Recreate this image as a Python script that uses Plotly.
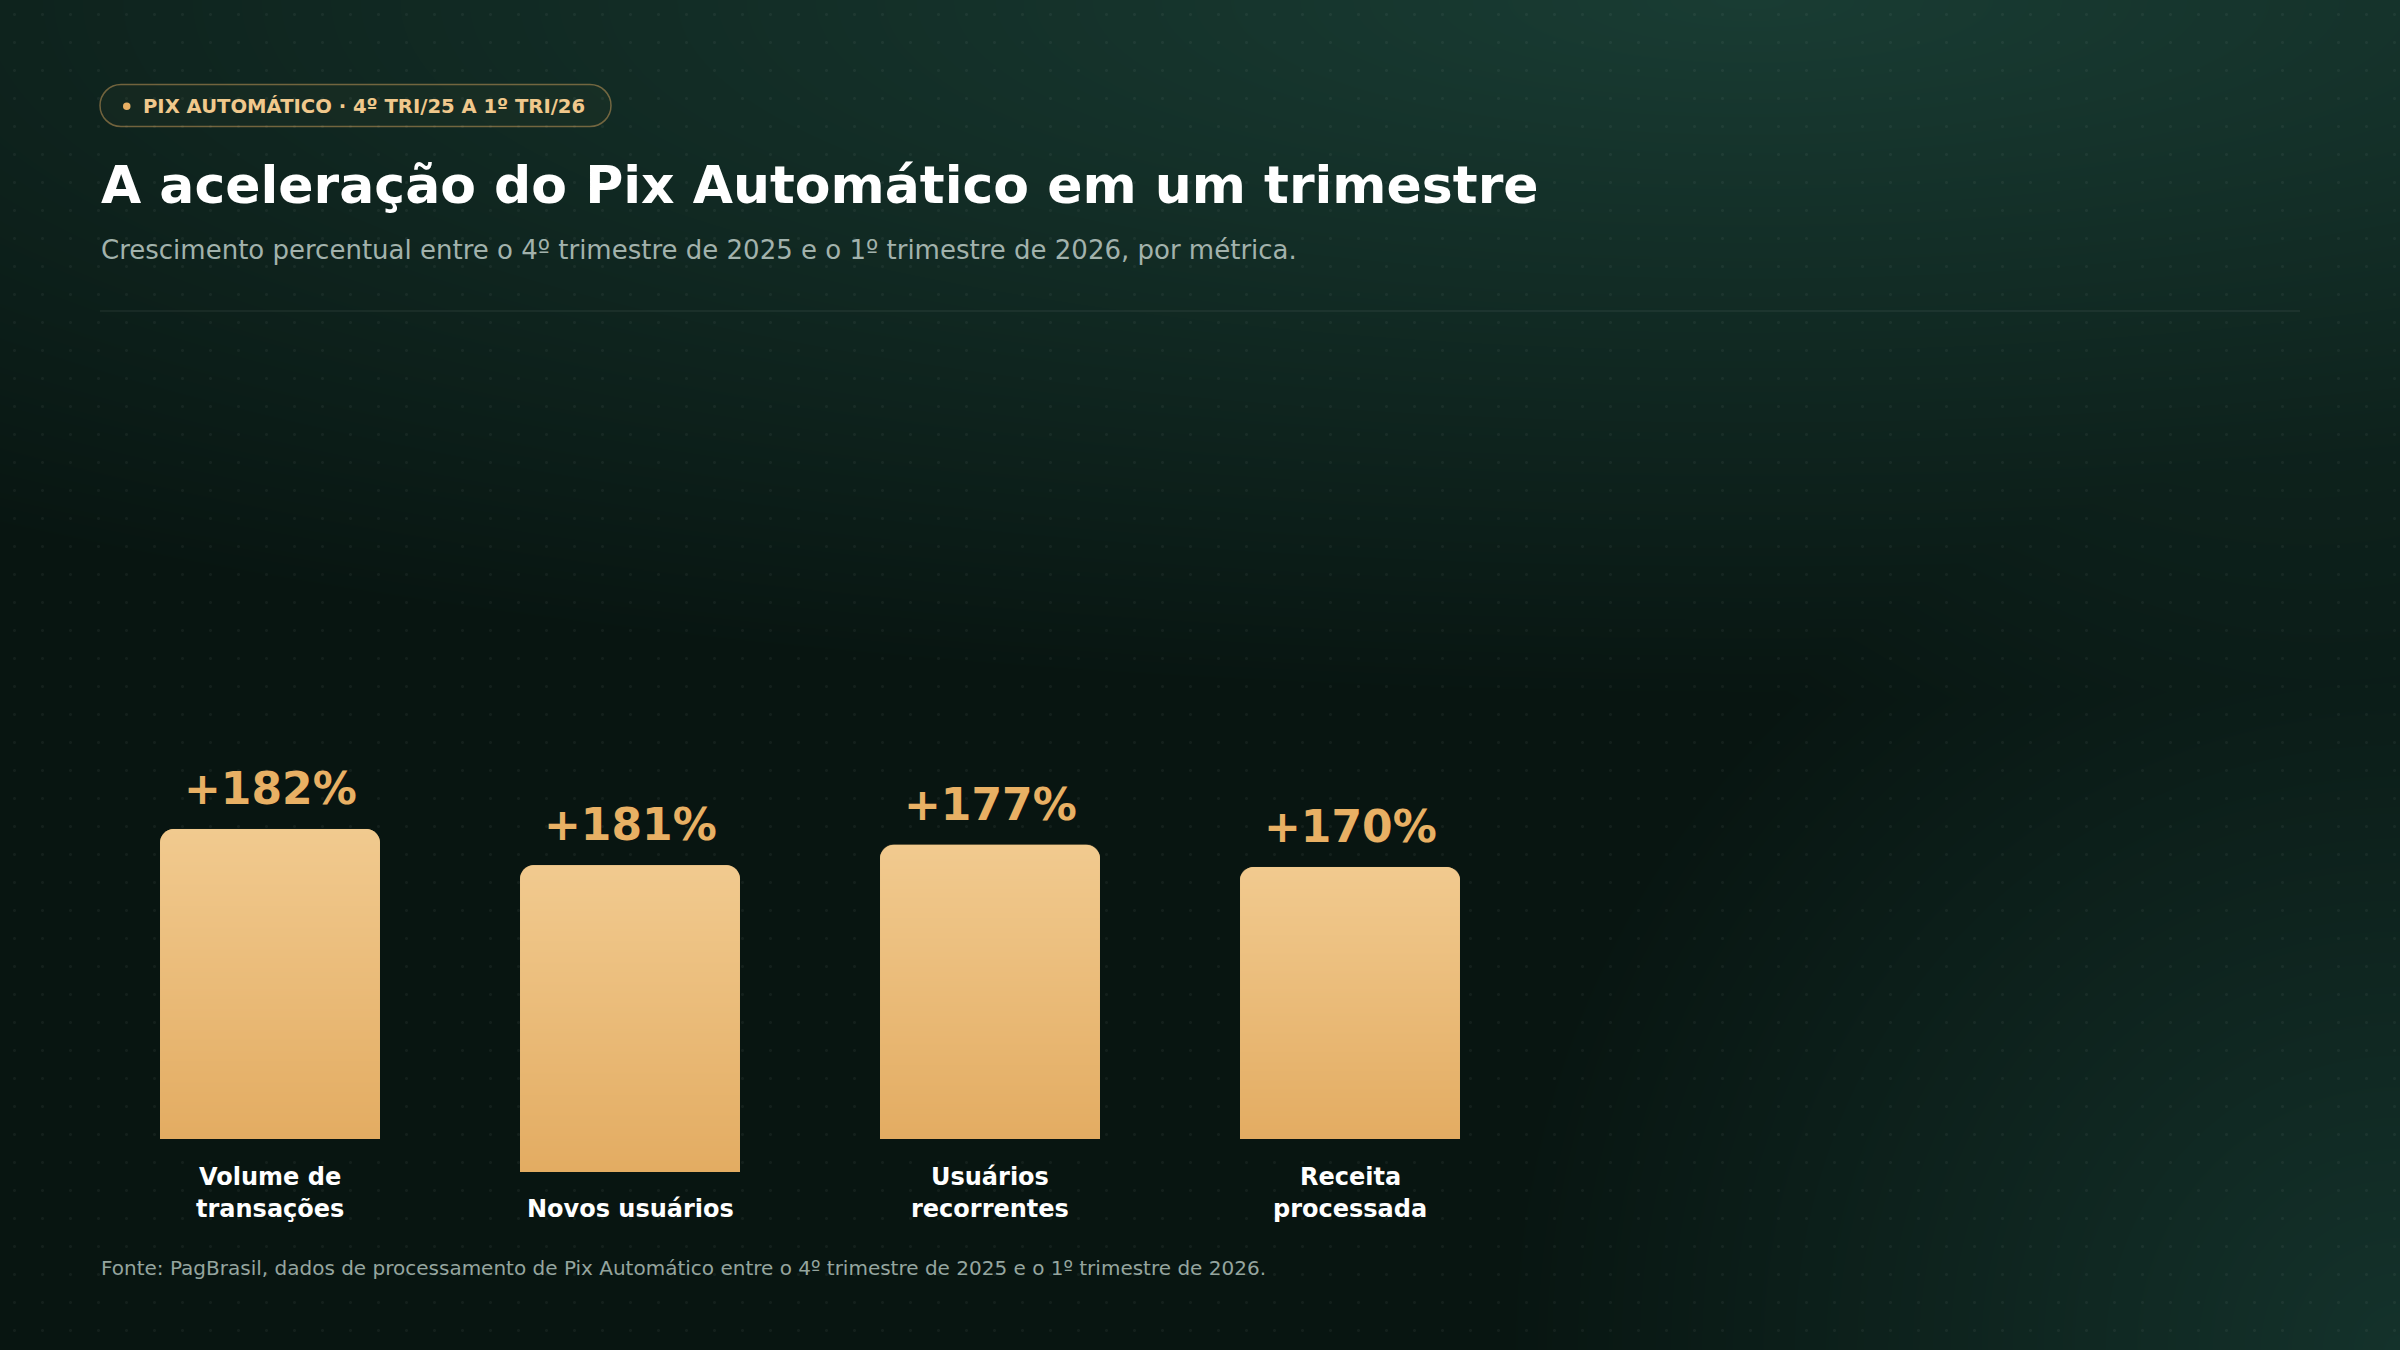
import base64
import struct
import zlib

import numpy as np
import plotly.graph_objects as go

W, H = 2400, 1350

# ---------------- data ----------------
categories = ["Volume de transações", "Novos usuários", "Usuários recorrentes", "Receita processada"]
label_lines = [["Volume de", "transações"], ["Novos usuários"], ["Usuários", "recorrentes"], ["Receita", "processada"]]
growth_pct = [182, 181, 177, 170]
value_labels = [f"+{v}%" for v in growth_pct]

badge_text = "PIX AUTOMÁTICO · 4º TRI/25 A 1º TRI/26"
title_text = "A aceleração do Pix Automático em um trimestre"
subtitle_text = "Crescimento percentual entre o 4º trimestre de 2025 e o 1º trimestre de 2026, por métrica."
source_text = ("Fonte: PagBrasil, dados de processamento de Pix Automático entre o 4º trimestre "
               "de 2025 e o 1º trimestre de 2026.")

# ---------------- layout constants ----------------
FONT = "DejaVu Sans"
GOLD = "#E8B064"
BAR_WIDTH = 0.611
BAR_RADIUS = 14
# column baseline drop in px (the single-line label column sits lower in the original layout)
column_drop_px = [0, 33, 0, 0]


def px(x):
    return x / W


def py(y):
    return 1 - y / H


def png_data_uri(arr):
    """Encode uint8 HxWxC (C=3 or 4) array as PNG data uri."""
    h, w, c = arr.shape
    f = arr.astype(np.int16)
    f[:, 1:, :] = arr[:, 1:, :].astype(np.int16) - arr[:, :-1, :].astype(np.int16)
    f = (f % 256).astype(np.uint8)
    rows = np.concatenate([np.ones((h, 1), np.uint8), f.reshape(h, w * c)], axis=1)
    data = zlib.compress(rows.tobytes(), 9)

    def chunk(t, d):
        return struct.pack(">I", len(d)) + t + d + struct.pack(">I", zlib.crc32(t + d) & 0xFFFFFFFF)

    ctype = 2 if c == 3 else 6
    png = (b"\x89PNG\r\n\x1a\n"
           + chunk(b"IHDR", struct.pack(">IIBBBBB", w, h, 8, ctype, 0, 0, 0))
           + chunk(b"IDAT", data)
           + chunk(b"IEND", b""))
    return "data:image/png;base64," + base64.b64encode(png).decode()


# ---------------- background image (glow + dot grid) ----------------
def make_background():
    yy, xx = np.mgrid[0:H, 0:W].astype(np.float32)
    base = np.array([8, 21, 17], np.float32)
    glow1 = np.array([25, 60, 51], np.float32)
    glow2 = np.array([20, 50, 43], np.float32)
    d1 = np.sqrt(((xx - 1750) / 2700) ** 2 + (yy / 700) ** 2)
    i1 = np.clip(1 - d1, 0, 1)
    d2 = np.sqrt((xx - 2400) ** 2 + (yy - 1350) ** 2) / 900
    i2 = np.clip(1 - d2, 0, 1)
    img = base + (glow1 - base) * i1[..., None] + (glow2 - base) * i2[..., None]
    dx = (xx % 28) - 14
    dy = (yy % 28) - 14
    r = np.sqrt(dx ** 2 + dy ** 2)
    a = 0.045 * np.clip(2.0 - r, 0, 1)
    img = img * (1 - a[..., None]) + 255 * a[..., None]
    return png_data_uri(np.clip(np.round(img), 0, 255).astype(np.uint8))


# ---------------- bar gradient fill (vertical, rounded top corners) ----------------
def make_bar_fill(w=220, h=300, rad=BAR_RADIUS):
    yy, xx = np.mgrid[0:h, 0:w].astype(np.float32) + 0.5
    t = yy / h
    top = np.array([241, 202, 143], np.float32)
    bot = np.array([227, 172, 98], np.float32)
    rgb = top + (bot - top) * t[..., None]
    cx = np.clip(xx, rad, w - rad)
    cy = np.maximum(yy, rad)
    d = np.sqrt((xx - cx) ** 2 + (yy - cy) ** 2)
    alpha = np.clip(rad + 0.5 - d, 0, 1) * 255
    rgba = np.dstack([rgb, alpha])
    return png_data_uri(np.clip(np.round(rgba), 0, 255).astype(np.uint8))


bg_src = make_background()
bar_src = make_bar_fill()

# ---------------- axes scale ----------------
Y_MIN = 84.1
PPU = 3.1667          # pixels per percentage point
PLOT_TOP, PLOT_BOTTOM = 339, 1139
Y_MAX = Y_MIN + (PLOT_BOTTOM - PLOT_TOP) / PPU

drops = sorted(set(column_drop_px))
axis_name = {d: ("y" if j == 0 else f"y{j + 1}") for j, d in enumerate(drops)}

fig = go.Figure()
images = [dict(source=bg_src, xref="paper", yref="paper", x=0, y=1, sizex=1, sizey=1,
               xanchor="left", yanchor="top", sizing="stretch", layer="below")]
annotations = []

for i, (cat, val, lab) in enumerate(zip(categories, growth_pct, value_labels)):
    yname = axis_name[column_drop_px[i]]
    fig.add_trace(go.Bar(
        x=[cat], y=[val], yaxis=yname, xaxis="x",
        width=BAR_WIDTH,
        marker=dict(color="#EABA76", cornerradius=BAR_RADIUS, line=dict(width=0)),
        hovertemplate=f"{cat}: +%{{y}}%<extra></extra>",
        showlegend=False,
    ))
    # gradient overlay on the bar, positioned in data coordinates
    images.append(dict(source=bar_src, xref="x", yref=yname,
                       x=i - BAR_WIDTH / 2, y=val, sizex=BAR_WIDTH, sizey=val - Y_MIN,
                       xanchor="left", yanchor="top", sizing="stretch", layer="above"))
    annotations.append(dict(
        x=cat, y=val, xref="x", yref=yname, text=f"<b>{lab}</b>", showarrow=False,
        yanchor="bottom", xanchor="center", yshift=13,
        font=dict(family=FONT, size=44, color=GOLD),
    ))

# category labels (bottom aligned, two line slots)
LABEL_SIZE = 24
line_baselines = [1185, 1217]
for c, lines in zip(categories, label_lines):
    slots = line_baselines[-len(lines):]
    for ln, base in zip(lines, slots):
        annotations.append(dict(
            x=c, y=py(base - 0.346 * LABEL_SIZE), xref="x", yref="paper", text=f"<b>{ln}</b>",
            showarrow=False, xanchor="center", yanchor="middle",
            font=dict(family=FONT, size=LABEL_SIZE, color="#FFFFFF"),
        ))

# header / footer texts
annotations += [
    dict(x=px(141), y=py(106), xref="paper", yref="paper", text=f"<b>{badge_text}</b>",
         showarrow=False, xanchor="left", yanchor="middle",
         font=dict(family=FONT, size=19.6, color="#F0C88C")),
    dict(x=px(99), y=py(185), xref="paper", yref="paper", text=f"<b>{title_text}</b>",
         showarrow=False, xanchor="left", yanchor="middle",
         font=dict(family=FONT, size=52, color="#FFFFFF")),
    dict(x=px(99), y=py(250), xref="paper", yref="paper", text=subtitle_text,
         showarrow=False, xanchor="left", yanchor="middle",
         font=dict(family=FONT, size=26, color="#A2B2AC")),
    dict(x=px(99), y=py(1268), xref="paper", yref="paper", text=source_text,
         showarrow=False, xanchor="left", yanchor="middle",
         font=dict(family=FONT, size=20, color="#95A59F")),
]

# badge pill path
x0, x1, y0, r = 100, 611, 84.5, 21
y1 = y0 + 2 * r
k = 0.5523 * r


def P(x, y):
    return f"{px(x):.6f},{py(y):.6f}"


pill = (f"M {P(x0 + r, y0)} L {P(x1 - r, y0)} "
        f"C {P(x1 - r + k, y0)} {P(x1, y0 + r - k)} {P(x1, y0 + r)} "
        f"C {P(x1, y0 + r + k)} {P(x1 - r + k, y1)} {P(x1 - r, y1)} "
        f"L {P(x0 + r, y1)} "
        f"C {P(x0 + r - k, y1)} {P(x0, y1 - r + k)} {P(x0, y1 - r)} "
        f"C {P(x0, y1 - r - k)} {P(x0 + r - k, y0)} {P(x0 + r, y0)} Z")

shapes = [
    dict(type="path", path=pill, xref="paper", yref="paper",
         line=dict(color="rgba(232,176,100,0.45)", width=1.5),
         fillcolor="rgba(232,176,100,0.03)", layer="above"),
    dict(type="circle", xref="paper", yref="paper",
         x0=px(123), x1=px(130.5), y0=py(102.5), y1=py(110),
         fillcolor=GOLD, line=dict(width=0)),
    dict(type="line", xref="paper", yref="paper",
         x0=px(100), x1=px(2300), y0=py(311), y1=py(311),
         line=dict(color="rgba(255,255,255,0.10)", width=1)),
]

layout_axes = {}
for d, name in axis_name.items():
    key = "yaxis" if name == "y" else "yaxis" + name[1:]
    layout_axes[key] = dict(domain=[py(PLOT_BOTTOM + d), py(PLOT_TOP + d)],
                            range=[Y_MIN, Y_MAX], visible=False, fixedrange=True, anchor="x")

fig.update_layout(
    width=W, height=H,
    margin=dict(l=0, r=0, t=0, b=0),
    paper_bgcolor="#0A1814",
    plot_bgcolor="rgba(0,0,0,0)",
    font=dict(family=FONT),
    xaxis=dict(domain=[px(90), px(1530)], range=[-0.5, 3.5], visible=False,
               type="category", categoryorder="array", categoryarray=categories,
               fixedrange=True),
    barmode="overlay",
    annotations=annotations,
    shapes=shapes,
    images=images,
    showlegend=False,
    **layout_axes,
)

fig.write_html("out.html", config={"displayModeBar": False},
               post_script="document.body.style.margin='0';")
